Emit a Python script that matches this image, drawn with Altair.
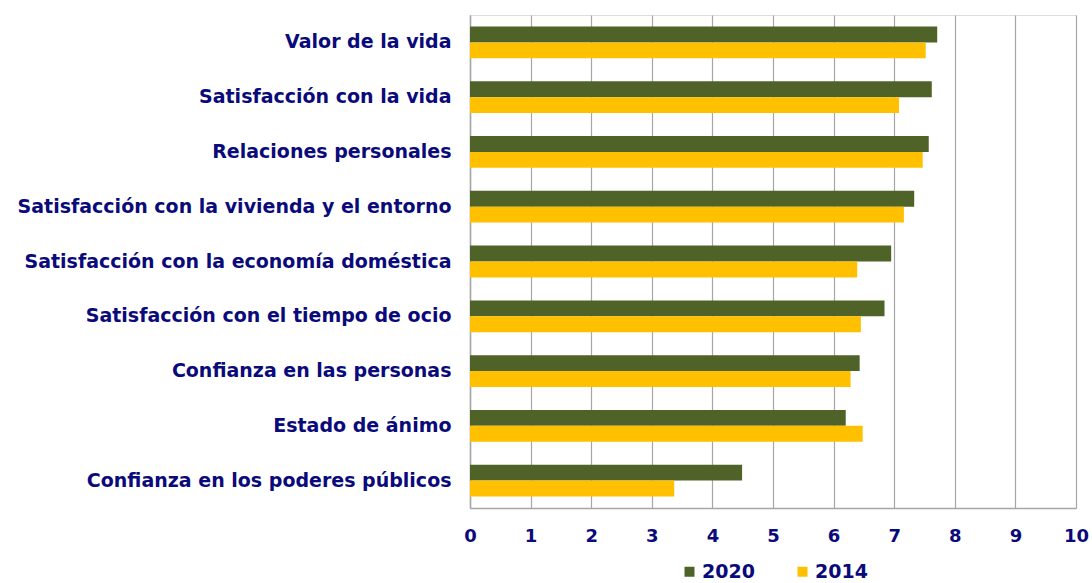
import altair as alt
import pandas as pd

categories = [
    "Valor de la vida",
    "Satisfacción con la vida",
    "Relaciones personales",
    "Satisfacción con la vivienda y el entorno",
    "Satisfacción con la economía doméstica",
    "Satisfacción con el tiempo de ocio",
    "Confianza en las personas",
    "Estado de ánimo",
    "Confianza en los poderes públicos",
]
values_2020 = [7.71, 7.62, 7.57, 7.33, 6.95, 6.84, 6.43, 6.20, 4.49]
values_2014 = [7.52, 7.08, 7.47, 7.16, 6.39, 6.45, 6.28, 6.48, 3.37]
series = ["2020", "2014"]
colors = ["#4F6228", "#FFC000"]
x_ticks = list(range(0, 11))

rows = []
for c, a, b in zip(categories, values_2020, values_2014):
    rows.append({"cat": c, "serie": "2020", "valor": a})
    rows.append({"cat": c, "serie": "2014", "valor": b})
df = pd.DataFrame(rows)

navy = "#0A0A7A"
font = "DejaVu Sans"

chart = alt.Chart(df).mark_bar(cornerRadius=0).encode(
    y=alt.Y(
        "cat:N",
        sort=categories,
        title=None,
        scale=alt.Scale(paddingInner=0.42, paddingOuter=0.21),
        axis=alt.Axis(
            labelFont=font, labelFontSize=19, labelFontWeight="bold",
            labelColor=navy, ticks=False, labelPadding=19,
            domainColor="#A6A6A6", domainWidth=1.5, labelLimit=600,
        ),
    ),
    x=alt.X(
        "valor:Q",
        title=None,
        scale=alt.Scale(domain=[0, 10], nice=False),
        axis=alt.Axis(
            values=x_ticks, grid=True, gridColor="#A6A6A6", gridWidth=1.2,
            labelFont=font, labelFontSize=18, labelFontWeight="bold",
            labelColor=navy, ticks=False, labelPadding=19, labelFlush=False,
            domainColor="#A6A6A6", domainWidth=1.5,
        ),
    ),
    yOffset=alt.YOffset("serie:N", sort=series),
    color=alt.Color(
        "serie:N",
        sort=series,
        scale=alt.Scale(domain=series, range=colors),
        legend=alt.Legend(
            title=None, orient="none", direction="horizontal",
            legendX=210, legendY=547,
            labelFont=font, labelFontSize=19, labelFontWeight="bold",
            labelColor=navy, symbolType="square", symbolSize=100,
            symbolStrokeWidth=0, columnPadding=38, labelOffset=3,
        ),
    ),
).properties(
    width=606,
    height=493,
    autosize=alt.AutoSizeParams(type="none"),
    padding={"left": 470, "top": 15, "right": 16, "bottom": 75},
).configure_view(stroke=None).configure(background="white")

chart.save("out.html", embed_options={"renderer": "svg", "actions": False})
